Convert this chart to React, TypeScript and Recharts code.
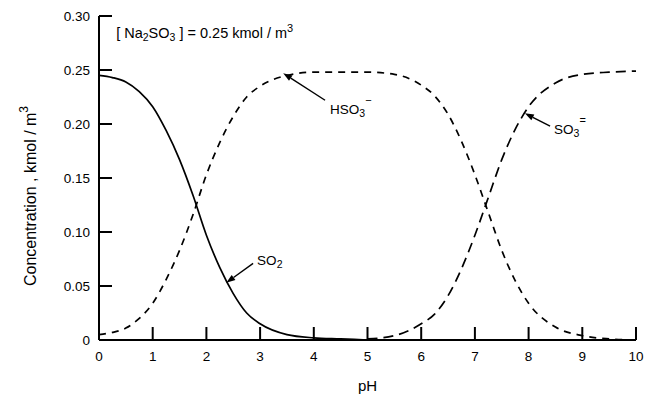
import { LineChart, Line, XAxis, YAxis, ReferenceLine, ReferenceDot } from 'recharts';

const PH = [0, 0.25, 0.5, 0.75, 1, 1.25, 1.5, 1.75, 2, 2.25, 2.5, 2.75, 3, 3.5, 4, 4.5, 5, 5.5, 6, 6.25, 6.5, 6.75, 7, 7.25, 7.5, 7.75, 8, 8.5, 9, 9.5, 10];

const SO2 = [
  0.245, 0.243, 0.239, 0.23, 0.216, 0.194, 0.167, 0.134, 0.097, 0.067, 0.043, 0.025, 0.015, 0.005, 0.002, 0.001, 0,
  null, null, null, null, null, null, null, null, null, null, null, null, null, null,
];

const HSO3 = [
  0.005, 0.007, 0.011, 0.02, 0.034, 0.056, 0.083, 0.116, 0.153, 0.183, 0.207, 0.225, 0.235, 0.245, 0.248, 0.248, 0.248,
  0.246, 0.236, 0.226, 0.209, 0.184, 0.153, 0.118, 0.083, 0.055, 0.034, 0.012, 0.004, 0.001, 0,
];

const SO3 = [
  null, null, null, null, null, null, null, null, null, null, null, null, null, null, null, null,
  0.001, 0.004, 0.015, 0.024, 0.041, 0.066, 0.097, 0.132, 0.167, 0.195, 0.216, 0.238, 0.246, 0.248, 0.249,
];

const X_TICKS = [0, 1, 2, 3, 4, 5, 6, 7, 8, 9, 10];
const Y_TICKS = [0, 0.05, 0.1, 0.15, 0.2, 0.25, 0.3];

const rows = PH.map((ph, i) => ({ ph, so2: SO2[i], hso3: HSO3[i], so3: SO3[i] }));

const FONT = '"Liberation Sans", Arial, sans-serif';
const TICK_LEN = 13;
const SUB = 10.5;

// tick label plus an inward tick mark (the axis point is x,y since tickSize is 0)
// eslint-disable-next-line @typescript-eslint/no-explicit-any
const XTick = ({ x, y, payload }: any) => {
  const px = Number(x);
  const py = Number(y);
  return (
    <g>
      <path d={`M${px},${py}V${py - TICK_LEN}`} stroke="#000" strokeWidth={2} fill="none" />
      <text x={px} y={py + 16} textAnchor="middle" dominantBaseline="central" fontSize={13.5} fontFamily={FONT} fill="#000">
        {payload.value}
      </text>
    </g>
  );
};

// eslint-disable-next-line @typescript-eslint/no-explicit-any
const YTick = ({ x, y, payload }: any) => {
  const px = Number(x);
  const py = Number(y);
  return (
    <g>
      <path d={`M${px},${py}H${px + TICK_LEN}`} stroke="#000" strokeWidth={2} fill="none" />
      <text x={px - 9} y={py} textAnchor="end" dominantBaseline="central" fontSize={13.5} fontFamily={FONT} fill="#000">
        {payload.value === 0 ? '0' : payload.value.toFixed(2)}
      </text>
    </g>
  );
};

// arrow from tail (x1,y1) to tip (x2,y2), with a label next to the tail
const arrowShape = (label: React.ReactNode, dx: number, dy: number) =>
  // eslint-disable-next-line @typescript-eslint/no-explicit-any
  (p: any) => {
    const { x1, y1, x2, y2 } = p;
    const a = Math.atan2(y2 - y1, x2 - x1);
    const len = 9;
    const w = 3.2;
    const bx = x2 - len * Math.cos(a);
    const by = y2 - len * Math.sin(a);
    const pts = [
      `${x2},${y2}`,
      `${bx - w * Math.sin(a)},${by + w * Math.cos(a)}`,
      `${bx + w * Math.sin(a)},${by - w * Math.cos(a)}`,
    ].join(' ');
    return (
      <g>
        <line x1={x1} y1={y1} x2={bx} y2={by} stroke="#000" strokeWidth={1.4} />
        <polygon points={pts} fill="#000" />
        <text x={x1 + dx} y={y1 + dy} dominantBaseline="central" fontSize={13.5} fontFamily={FONT} fill="#000">
          {label}
        </text>
      </g>
    );
  };

// eslint-disable-next-line @typescript-eslint/no-explicit-any
const ConcLabel = ({ cx, cy }: any) => (
  <text x={cx} y={cy} dominantBaseline="central" fontSize={14.5} fontFamily={FONT} fill="#000">
    [ Na
    <tspan dy={4} fontSize={SUB}>2</tspan>
    <tspan dy={-4}>SO</tspan>
    <tspan dy={4} fontSize={SUB}>3</tspan>
    <tspan dy={-4}> ] = 0.25 kmol / m</tspan>
    <tspan dy={-5} fontSize={11}>3</tspan>
  </text>
);

// eslint-disable-next-line @typescript-eslint/no-explicit-any
const YTitle = ({ viewBox }: any) => {
  const cx = 30;
  const cy = viewBox.y + viewBox.height / 2 + 18;
  return (
    <text x={cx} y={cy} transform={`rotate(-90 ${cx} ${cy})`} textAnchor="middle" dominantBaseline="central" fontSize={16} fontFamily={FONT} fill="#000">
      Concentration ,  kmol / m<tspan dy={-6} fontSize={12}>3</tspan>
    </text>
  );
};

export default function App() {
  return (
    <div style={{ position: 'absolute', left: 0, top: 0, width: 645, height: 399, background: '#fff' }}>
      <LineChart width={645} height={399} data={rows} margin={{ top: 16, right: 9, bottom: 0, left: 0 }}>
        <XAxis
          dataKey="ph"
          type="number"
          domain={[0, 10]}
          ticks={X_TICKS}
          height={59}
          tickSize={0}
          tickMargin={0}
          tickLine={false}
          tick={XTick}
          axisLine={{ stroke: '#000', strokeWidth: 2 }}
          label={{ value: 'pH', position: 'insideBottom', offset: 8, fontSize: 15, fontFamily: FONT, fill: '#000' }}
        />
        <XAxis xAxisId="top" orientation="top" type="number" domain={[0, 10]} height={0} tick={false} tickLine={false} axisLine={{ stroke: '#000', strokeWidth: 1.4 }} />
        <YAxis
          type="number"
          domain={[0, 0.3]}
          ticks={Y_TICKS}
          width={99}
          tickSize={0}
          tickMargin={0}
          tickLine={false}
          tick={YTick}
          axisLine={{ stroke: '#000', strokeWidth: 2 }}
          label={{ content: <YTitle /> }}
        />
        <YAxis yAxisId="right" orientation="right" type="number" domain={[0, 0.3]} width={0} tick={false} tickLine={false} axisLine={{ stroke: '#000', strokeWidth: 1.4 }} />

        <Line dataKey="so2" type="monotone" stroke="#000" strokeWidth={1.7} dot={false} isAnimationActive={false} />
        <Line dataKey="hso3" type="monotone" stroke="#000" strokeWidth={1.7} strokeDasharray="7 6" dot={false} isAnimationActive={false} />
        <Line dataKey="so3" type="monotone" stroke="#000" strokeWidth={1.7} strokeDasharray="10 6" dot={false} isAnimationActive={false} />

        <ReferenceDot x={0.32} y={0.284} shape={<ConcLabel />} />
        <ReferenceLine
          segment={[{ x: 4.21, y: 0.222 }, { x: 3.43, y: 0.247 }]}
          shape={arrowShape(<>HSO<tspan dy={4} fontSize={SUB}>3</tspan><tspan dy={-13} fontSize={11}>−</tspan></>, 5, 9)}
        />
        <ReferenceLine
          segment={[{ x: 8.4, y: 0.198 }, { x: 7.93, y: 0.21 }]}
          shape={arrowShape(<>SO<tspan dy={4} fontSize={SUB}>3</tspan><tspan dy={-13} fontSize={11}>=</tspan></>, 4, 3)}
        />
        <ReferenceLine
          segment={[{ x: 2.87, y: 0.071 }, { x: 2.37, y: 0.053 }]}
          shape={arrowShape(<>SO<tspan dy={4} fontSize={SUB}>2</tspan></>, 4, -3)}
        />
      </LineChart>
    </div>
  );
}
